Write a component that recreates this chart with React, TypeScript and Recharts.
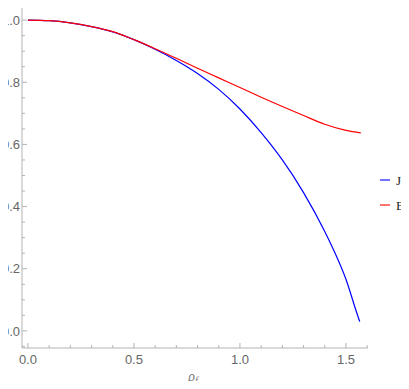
import { LineChart, Line, XAxis, YAxis, Legend } from "recharts";

// values
const J_X = [0, 0.1, 0.2, 0.3, 0.4, 0.5, 0.6, 0.7, 0.8, 0.9, 1.0, 1.1, 1.2, 1.3, 1.4, 1.45, 1.5, 1.55, 1.565];
const J_Y = [1.0, 0.998, 0.991, 0.979, 0.962, 0.937, 0.906, 0.87, 0.828, 0.777, 0.714, 0.638, 0.55, 0.445, 0.32, 0.248, 0.166, 0.06, 0.03];
const E_X = [0, 0.1, 0.2, 0.3, 0.4, 0.5, 0.6, 0.7, 0.8, 0.9, 1.0, 1.1, 1.2, 1.3, 1.4, 1.5, 1.57];
const E_Y = [1.0, 0.998, 0.991, 0.979, 0.963, 0.937, 0.908, 0.877, 0.845, 0.814, 0.783, 0.752, 0.722, 0.693, 0.665, 0.645, 0.637];

const X_MAJOR = [0, 0.5, 1.0, 1.5];
const X_TICKS = [0, 0.1, 0.2, 0.3, 0.4, 0.5, 0.6, 0.7, 0.8, 0.9, 1.0, 1.1, 1.2, 1.3, 1.4, 1.5, 1.6];
const Y_MAJOR = [0, 0.2, 0.4, 0.6, 0.8, 1.0];
const Y_TICKS = [-0.05, 0, 0.05, 0.1, 0.15, 0.2, 0.25, 0.3, 0.35, 0.4, 0.45, 0.5, 0.55, 0.6, 0.65, 0.7, 0.75, 0.8, 0.85, 0.9, 0.95, 1.0, 1.05];

const jData = J_X.map((x, i) => ({ x, y: J_Y[i] }));
const eData = E_X.map((x, i) => ({ x, y: E_Y[i] }));

const FRAME = "#b3b3b3";
const LABEL = "#666666";
const FONT = "Arial, 'Liberation Sans', sans-serif";

const isMajor = (list: number[], v: number) => list.some((m) => Math.abs(m - v) < 1e-9);

function BottomTick({ x, y, payload }: any) {
  const major = isMajor(X_MAJOR, payload.value);
  return (
    <g>
      <line x1={x} y1={y} x2={x} y2={y - (major ? 5 : 3)} stroke={FRAME} />
      {major && (
        <text x={x} y={y + 16} textAnchor="middle" fill={LABEL} fontSize={13} fontFamily={FONT}>
          {payload.value.toFixed(1)}
        </text>
      )}
    </g>
  );
}

function TopTick({ x, y, payload }: any) {
  const major = isMajor(X_MAJOR, payload.value);
  return <line x1={x} y1={y} x2={x} y2={y + (major ? 5 : 3)} stroke={FRAME} />;
}

function LeftTick({ x, y, payload }: any) {
  const major = isMajor(Y_MAJOR, payload.value);
  return (
    <g>
      <line x1={x} y1={y} x2={x + (major ? 5 : 3)} y2={y} stroke={FRAME} />
      {major && (
        <text x={x - 20} y={y} dy="0.36em" textAnchor="start" fill={LABEL} fontSize={13} fontFamily={FONT}>
          {payload.value.toFixed(1)}
        </text>
      )}
    </g>
  );
}

function RightTick({ x, y, payload }: any) {
  const major = isMajor(Y_MAJOR, payload.value);
  return <line x1={x} y1={y} x2={x - (major ? 5 : 3)} y2={y} stroke={FRAME} />;
}

function AxisTitle({ viewBox }: any) {
  const cx = viewBox.x + viewBox.width / 2 - 2;
  return (
    <text x={cx} y={381} textAnchor="middle" fill="#7a7a7a" fontFamily="'Liberation Serif', serif" fontStyle="italic" fontSize={14}>
      ρ
      <tspan fontSize={10} dy={3}>f</tspan>
    </text>
  );
}

function LegendBox() {
  const items = [
    { name: "J", color: "#0000ff" },
    { name: "E", color: "#ff0000" },
  ];
  return (
    <svg width={33} height={40} style={{ display: "block" }}>
      {items.map((it, i) => (
        <g key={it.name}>
          <line x1={4} x2={14} y1={8 + i * 25} y2={8 + i * 25} stroke={it.color} strokeOpacity={0.55} strokeWidth={2} />
          <text x={20} y={8 + i * 25} dy="0.35em" fontSize={13} fontFamily="'Liberation Serif', serif" fill="#222">
            {it.name}
          </text>
        </g>
      ))}
    </svg>
  );
}

export default function App() {
  return (
    <div style={{ margin: -8, width: 409, height: 389, background: "#fff" }}>
      <LineChart width={409} height={389} margin={{ top: 3, right: 8, bottom: 0, left: 0 }}>
        <XAxis
          xAxisId="b"
          dataKey="x"
          type="number"
          domain={[-0.028, 1.604]}
          allowDataOverflow
          ticks={X_TICKS}
          interval={0}
          height={41}
          tickSize={0}
          tickMargin={0}
          tickLine={false}
          axisLine={{ stroke: FRAME }}
          tick={<BottomTick />}
          label={<AxisTitle />}
        />
        <XAxis
          xAxisId="t"
          orientation="top"
          dataKey="x"
          type="number"
          domain={[-0.028, 1.604]}
          allowDataOverflow
          ticks={X_TICKS}
          interval={0}
          height={0}
          tickSize={0}
          tickMargin={0}
          tickLine={false}
          axisLine={{ stroke: FRAME }}
          tick={<TopTick />}
        />
        <YAxis
          yAxisId="l"
          type="number"
          domain={[-0.055, 1.055]}
          allowDataOverflow
          ticks={Y_TICKS}
          interval={0}
          width={22}
          tickSize={0}
          tickMargin={0}
          tickLine={false}
          axisLine={{ stroke: FRAME }}
          tick={<LeftTick />}
        />
        <YAxis
          yAxisId="r"
          orientation="right"
          type="number"
          domain={[-0.055, 1.055]}
          allowDataOverflow
          ticks={Y_TICKS}
          interval={0}
          width={0}
          tickSize={0}
          tickMargin={0}
          tickLine={false}
          axisLine={{ stroke: FRAME }}
          tick={<RightTick />}
        />
        <Legend
          layout="vertical"
          align="right"
          verticalAlign="middle"
          content={<LegendBox />}
          wrapperStyle={{ width: 33, top: 172, left: 376 }}
        />
        <Line
          data={jData}
          xAxisId="b"
          yAxisId="l"
          dataKey="y"
          name="J"
          type="monotone"
          stroke="#0000ff"
          strokeWidth={1.2}
          dot={false}
          isAnimationActive={false}
        />
        <Line
          data={eData}
          xAxisId="b"
          yAxisId="l"
          dataKey="y"
          name="E"
          type="monotone"
          stroke="#ff0000"
          strokeWidth={1.2}
          dot={false}
          isAnimationActive={false}
        />
      </LineChart>
    </div>
  );
}
